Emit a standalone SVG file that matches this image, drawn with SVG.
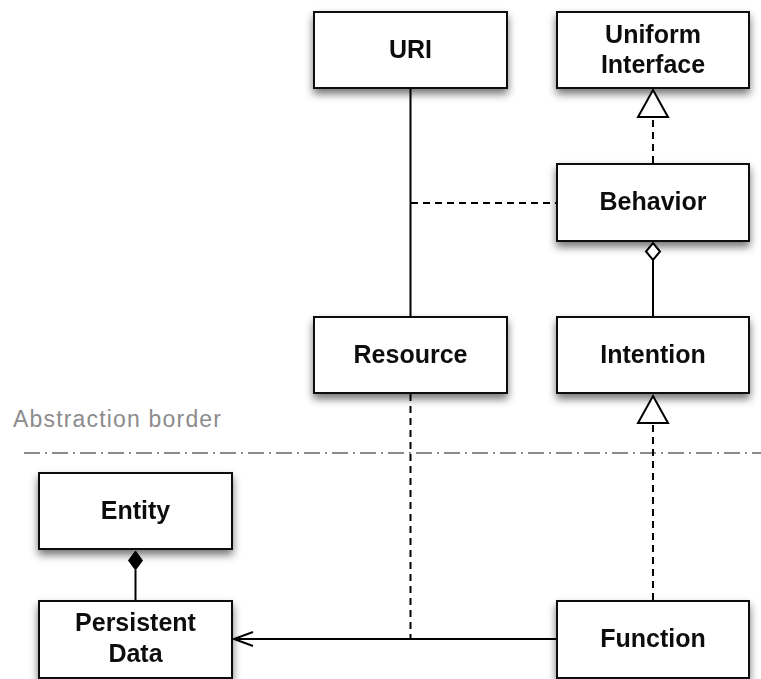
<svg xmlns="http://www.w3.org/2000/svg" width="761" height="679" viewBox="0 0 761 679">
  <defs>
    <filter id="shadow" x="-20%" y="-30%" width="140%" height="170%">
      <feGaussianBlur in="SourceAlpha" stdDeviation="4"/>
      <feOffset dx="0" dy="5" result="blur"/>
      <feComponentTransfer><feFuncA type="linear" slope="0.55"/></feComponentTransfer>
      <feMerge><feMergeNode/><feMergeNode in="SourceGraphic"/></feMerge>
    </filter>
  </defs>
  <style>
    .box { fill: #fff; stroke: #111; stroke-width: 2; }
    .label { font-family: "Liberation Sans", Arial, sans-serif; font-weight: bold; font-size: 25px; fill: #111; text-anchor: middle; }
    .line { fill: none; stroke: #000; stroke-width: 2; }
    .dash { fill: none; stroke: #000; stroke-width: 2; stroke-dasharray: 7 5; }
    .hollow { fill: #fff; stroke: #000; stroke-width: 2; }
    .border { fill: none; stroke: #8c8c8c; stroke-width: 2; stroke-dasharray: 16 5 2 5; }
    .note { font-family: "Liberation Sans", Arial, sans-serif; font-size: 23px; fill: #8c8c8c; }
  </style>

  <!-- abstraction border -->
  <text class="note" x="13" y="427" textLength="208" lengthAdjust="spacing">Abstraction border</text>
  <line class="border" x1="24" y1="453" x2="761" y2="453"/>

  <!-- nodes -->
  <g id="uri" filter="url(#shadow)">
    <rect class="box" x="314" y="12" width="193" height="76"/>
    <text class="label" x="410.5" y="58">URI</text>
  </g>
  <g id="uniform-interface" filter="url(#shadow)">
    <rect class="box" x="557" y="12" width="192" height="76"/>
    <text class="label" x="653" y="43">Uniform</text>
    <text class="label" x="653" y="73">Interface</text>
  </g>
  <g id="behavior" filter="url(#shadow)">
    <rect class="box" x="557" y="164" width="192" height="77"/>
    <text class="label" x="653" y="210">Behavior</text>
  </g>
  <g id="resource" filter="url(#shadow)">
    <rect class="box" x="314" y="317" width="193" height="76"/>
    <text class="label" x="410.5" y="363">Resource</text>
  </g>
  <g id="intention" filter="url(#shadow)">
    <rect class="box" x="557" y="317" width="192" height="76"/>
    <text class="label" x="653" y="363">Intention</text>
  </g>
  <g id="entity" filter="url(#shadow)">
    <rect class="box" x="39" y="473" width="193" height="76"/>
    <text class="label" x="135.5" y="519">Entity</text>
  </g>
  <g id="persistent-data" filter="url(#shadow)">
    <rect class="box" x="39" y="601" width="193" height="77"/>
    <text class="label" x="135.5" y="631">Persistent</text>
    <text class="label" x="135.5" y="662">Data</text>
  </g>
  <g id="function" filter="url(#shadow)">
    <rect class="box" x="557" y="601" width="192" height="77"/>
    <text class="label" x="653" y="647">Function</text>
  </g>

  <!-- connectors -->
  <g id="connectors">
    <!-- URI — Resource -->
    <line class="line" x1="410.5" y1="89" x2="410.5" y2="316"/>
    <!-- association class link to Behavior -->
    <line class="dash" x1="411" y1="203" x2="556" y2="203"/>
    <!-- Behavior realizes Uniform Interface -->
    <line class="dash" x1="653" y1="163" x2="653" y2="117"/>
    <polygon class="hollow" points="653,90 668,117 638,117"/>
    <!-- Behavior aggregates Intention -->
    <line class="line" x1="653" y1="260" x2="653" y2="316"/>
    <polygon class="hollow" points="653,243 660,251.5 653,260 646,251.5" stroke-width="1.8"/>
    <!-- Function realizes Intention -->
    <line class="dash" x1="653" y1="600" x2="653" y2="423"/>
    <polygon class="hollow" points="653,396 668,423 638,423"/>
    <!-- Resource dashed link onto the Function association -->
    <line class="dash" x1="410.5" y1="394" x2="410.5" y2="639"/>
    <!-- Function → Persistent Data -->
    <line class="line" x1="556" y1="639" x2="234" y2="639"/>
    <polyline class="line" points="253,632 234,639 253,646"/>
    <!-- Entity composed of Persistent Data -->
    <line class="line" x1="135.5" y1="570" x2="135.5" y2="600"/>
    <polygon points="135.5,551 142.5,560.5 135.5,570 128.5,560.5" fill="#000" stroke="#000" stroke-width="1"/>
  </g>
</svg>
